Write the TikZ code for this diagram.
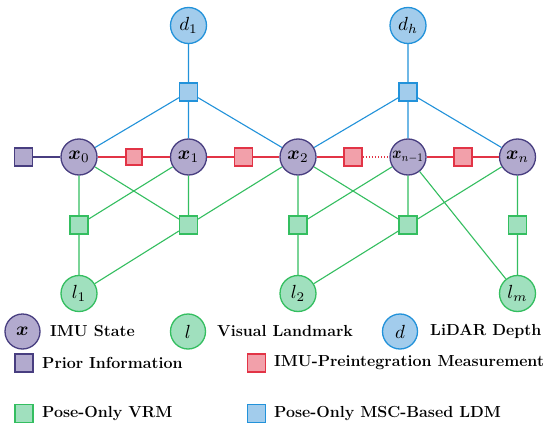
\documentclass[tikz,border=0pt]{standalone}
\usepackage{amsmath,bm}
\definecolor{pfill}{RGB}{178,170,206}
\definecolor{pline}{RGB}{72,62,128}
\definecolor{rfill}{RGB}{242,160,170}
\definecolor{rline}{RGB}{226,52,70}
\definecolor{gfill}{RGB}{160,224,190}
\definecolor{gline}{RGB}{52,190,96}
\definecolor{bfill}{RGB}{162,204,236}
\definecolor{bline}{RGB}{34,146,218}
\newcommand{\nlab}[1]{\scalebox{1.9}{$#1$}}
\tikzset{
  cnode/.style={circle,line width=1.3pt,minimum size=36pt,inner sep=0pt},
  xnode/.style={cnode,draw=pline,fill=pfill},
  lnode/.style={cnode,draw=gline,fill=gfill},
  dnode/.style={cnode,draw=bline,fill=bfill},
  sqnode/.style={rectangle,line width=1.1pt,minimum size=18pt,inner sep=0pt},
  psq/.style={sqnode,draw=pline,fill=pfill},
  rsq/.style={sqnode,draw=rline,fill=rfill},
  gsq/.style={sqnode,draw=gline,fill=gfill},
  bsq/.style={sqnode,draw=bline,fill=bfill},
  pe/.style={draw=pline,line width=1.1pt},
  re/.style={draw=rline,line width=1.1pt},
  ge/.style={draw=gline,line width=1.1pt},
  be/.style={draw=bline,line width=1.1pt},
  legtext/.style={anchor=west,inner sep=0pt,font=\fontsize{16}{18}\selectfont\bfseries},
}
\begin{document}
\begin{tikzpicture}[x=1pt,y=-1pt]
\useasboundingbox[fill=white] (0,0) rectangle (546,441);
% nodes
\node[dnode] (d1) at (188.5,25.5) {\nlab{d_1}};
\node[dnode] (dh) at (408,25.5) {\nlab{d_h}};
\node[bsq] (b1) at (188.5,92) {};
\node[bsq] (b2) at (408,92) {};
\node[xnode] (x0) at (79,157) {\nlab{\bm{x}_0}};
\node[xnode] (x1) at (188.5,157) {\nlab{\bm{x}_1}};
\node[xnode] (x2) at (298,157) {\nlab{\bm{x}_2}};
\node[xnode] (xm) at (408,157) {\scalebox{1.4}[1.65]{$\bm{x}_{n-1}$}};
\node[xnode] (xn) at (517.5,157) {\nlab{\bm{x}_n}};
\node[psq] (p0) at (23.5,157) {};
\node[rsq,minimum size=16pt] (r1) at (134,157) {};
\node[rsq] (r2) at (243.5,157) {};
\node[rsq] (r3) at (353,157) {};
\node[rsq] (r4) at (463,157) {};
\node[gsq] (g1) at (79,225) {};
\node[gsq] (g2) at (188.5,225) {};
\node[gsq] (g3) at (298,225) {};
\node[gsq] (g4) at (408,225) {};
\node[gsq] (g5) at (517.5,225) {};
\node[lnode] (l1) at (79,293.5) {\nlab{l_1}};
\node[lnode] (l2) at (298,293.5) {\nlab{l_2}};
\node[lnode] (lm) at (517.5,293.5) {\nlab{l_m}};
% edges
\path[be] (d1) -- (b1) (dh) -- (b2)
  (b1) -- (x0) (b1) -- (x1) (b1) -- (x2)
  (b2) -- (x2) (b2) -- (xm) (b2) -- (xn);
\path[pe] (p0) -- (x0);
\path[re] (x0) -- (r1) -- (x1) -- (r2) -- (x2) -- (r3) (xm) -- (r4) -- (xn);
\path[re,dotted,line width=1.2pt] (r3) -- (xm);
\path[ge] (x0) -- (g1) -- (l1) (x1) -- (g1)
  (x0) -- (g2) (x1) -- (g2) (x2) -- (g2) (g2) -- (l1)
  (x2) -- (g3) -- (l2) (xm) -- (g3)
  (x2) -- (g4) (xm) -- (g4) (xn) -- (g4) (g4) -- (l2)
  (xn) -- (g5) -- (lm)
  (xm) -- (lm);
% legend
\node[xnode,minimum size=35pt] (kx) at (22.5,331.5) {\nlab{\bm{x}}};
\node[legtext] (tx) at (50,331.5) {IMU State};
\node[lnode,minimum size=35pt] (kl) at (188,331.5) {\nlab{l}};
\node[legtext] (tl) at (217,331.5) {Visual Landmark};
\node[dnode,minimum size=35pt] (kd) at (400,331.5) {\nlab{d}};
\node[legtext] (td) at (430,331.5) {LiDAR Depth};
\node[psq] (kp) at (24,363) {};
\node[legtext] (tp) at (42,363) {Prior Information};
\node[rsq] (kr) at (256.5,363) {};
\node[legtext] (tr) at (274,363) {IMU-Preintegration Measurement};
\node[gsq] (kg) at (24,413.5) {};
\node[legtext] (tg) at (42,413.5) {Pose-Only VRM};
\node[bsq] (kb) at (256.5,413.5) {};
\node[legtext] (tb) at (274,413.5) {Pose-Only MSC-Based LDM};
\end{tikzpicture}
\end{document}
